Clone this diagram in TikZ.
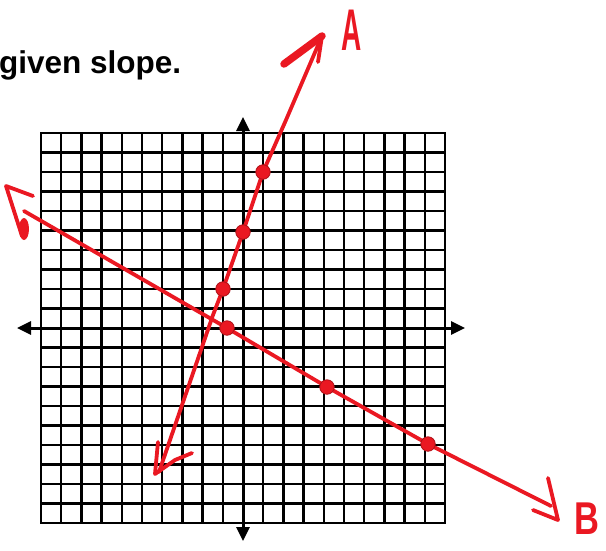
\documentclass[tikz,border=0pt]{standalone}
\usepackage{fontspec}
\setmainfont{Liberation Sans}
\usetikzlibrary{arrows.meta}
\definecolor{pen}{RGB}{234,24,34}
\begin{document}
\begin{tikzpicture}[x=1pt,y=-1pt,
  gridline/.style={line width=2.3pt, black},
  axisline/.style={line width=3pt, black, {Triangle[length=14pt,width=13pt]}-{Triangle[length=14pt,width=13pt]}},
  penline/.style={line width=3.8pt, pen, line cap=round, line join=round},
  penbarb/.style={line width=3.8pt, pen, line cap=round, line join=round},
  dot/.style={circle, fill=pen, draw=pen!75!black, line width=0.8pt, inner sep=0pt, minimum size=14.5pt},
  handlabel/.style={text=pen, inner sep=0pt, font=\fontsize{56}{56}\selectfont\bfseries}]
\useasboundingbox (0,0) rectangle (606,550);
\fill[white] (0,0) rectangle (606,550);

% heading text
\node[anchor=base west, inner sep=0pt, font=\fontsize{31.5}{36}\selectfont\bfseries] (head) at (-1,73) {given slope.};

% grid
\foreach \i in {-10,...,10}{
  \draw[gridline] ({243+20.2*\i},132) -- ({243+20.2*\i},524);
  \draw[gridline] (40,{328-19.5*\i}) -- (446,{328-19.5*\i});
}
% axes
\coordinate (xl) at (17,328);
\coordinate (xr) at (465,328);
\coordinate (yt) at (243,117);
\coordinate (yb) at (243,541);
\draw[axisline] (xl) -- (xr);
\draw[axisline] (yt) -- (yb);

% points
\coordinate (a1) at (263,172);
\coordinate (a2) at (243,232);
\coordinate (a3) at (223,289);
\coordinate (b1) at (227,328);
\coordinate (b2) at (327,387);
\coordinate (b3) at (428,444);

% line A
\coordinate (aBot) at (159,472);
\coordinate (aX) at (213,315);
\coordinate (aU1) at (286,120);
\coordinate (aU2) at (313,57);
\coordinate (aTip) at (322,36);
\draw[penline] (aBot) -- (aX) -- (a3) -- (a2) -- (a1) -- (aU1) -- (aU2) -- (aTip);
% arrowhead top of A
\coordinate (aL) at (284,64);
\coordinate (aR) at (318,62);
\draw[pen, line width=7.5pt, line cap=round] (aL) -- (aTip);
\draw[penbarb] (aR) -- (aTip);
% arrowhead bottom of A
\coordinate (aBL) at (158,442);
\coordinate (aBT) at (155,474);
\coordinate (aBM) at (175,460);
\coordinate (aBR) at (192,453);
\draw[penbarb] (aBL) -- (aBT) -- (aBM) -- (aBR);

% line B
\coordinate (bStart) at (24,211);
\coordinate (bEnd) at (551,506);
\draw[penline] (bStart) -- (b1) -- (b2) -- (b3) -- (bEnd);
% arrowhead left of B
\coordinate (bT1) at (33,196);
\coordinate (bT2) at (6,186);
\coordinate (bT3) at (22,236);
\draw[penbarb] (bT1) -- (bT2) -- (bT3);
\fill[pen] (24,229) ellipse [x radius=5pt, y radius=11pt];
% arrowhead right of B
\coordinate (bR1) at (548,478);
\coordinate (bR2) at (558,520);
\coordinate (bR3) at (533,510);
\draw[penbarb] (bR1) -- (bR2) -- (bR3);

% dots
\foreach \p in {a1,a2,a3,b1,b2,b3}{
  \node[dot] (dot\p) at (\p) {};
}

% labels
\node[handlabel, xscale=0.5, yscale=1.05] (labA) at (351.5,30) {A};
\node[handlabel, font=\fontsize{46}{46}\selectfont\bfseries, xscale=0.75, anchor=north west] (labB) at (574,503) {B};
\end{tikzpicture}
\end{document}
